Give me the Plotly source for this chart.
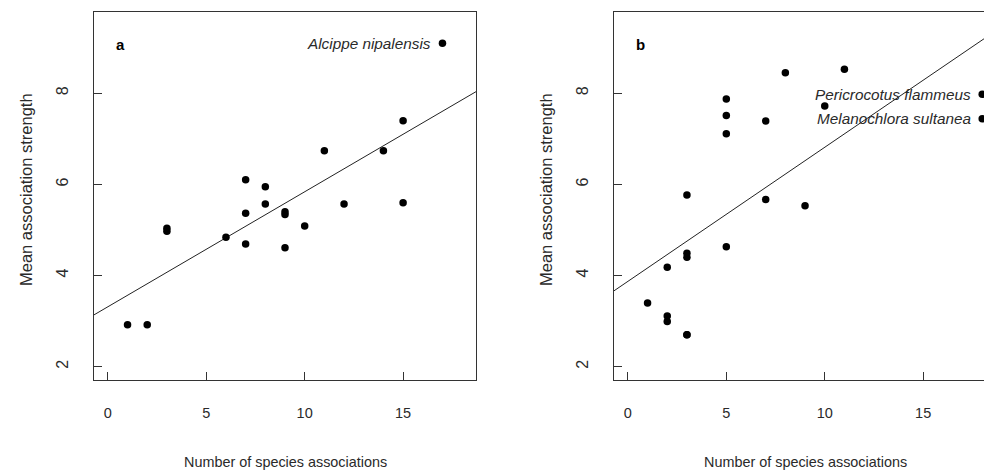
import numpy as np
import plotly.graph_objects as go

# ---------------- data ----------------
# Panel a
a_x = [1, 2, 3, 3, 6, 7, 7, 7, 8, 8, 9, 9, 9, 10, 11, 12, 14, 15, 15, 17]
a_y = [2.92, 2.92, 5.04, 4.97, 4.84, 6.10, 5.37, 4.69, 5.95, 5.57,
       5.40, 5.34, 4.61, 5.09, 6.74, 5.57, 6.74, 7.40, 5.60, 9.10]
# Panel b (the point at (3, 2.70) appears twice - overlapping)
b_x = [1, 2, 2, 2, 3, 3, 3, 3, 3, 5, 5, 5, 5, 7, 7, 8, 9, 10, 11, 18, 18]
b_y = [3.40, 4.18, 3.11, 2.99, 5.77, 4.49, 4.40, 2.70, 2.70, 7.875, 7.51,
       7.11, 4.63, 7.39, 5.67, 8.45, 5.53, 7.72, 8.53, 7.98, 7.44]

a_labels = [("Alcippe nipalensis", 17, 9.10)]
b_labels = [("Pericrocotus flammeus", 18, 7.98), ("Melanochlora sultanea", 18, 7.44)]
panel_tags = ["a", "b"]

x_ticks = [0, 5, 10, 15]
y_ticks = [2, 4, 6, 8]
x_title = "Number of species associations"
y_title = "Mean association strength"

# ---------------- figure ----------------
W, H = 984, 470
FONT = "Liberation Sans, Arial, Helvetica, sans-serif"
TXT = "#2a2a2a"
AX = "#333333"

xr_a = [-0.72, 18.72]
xr_b = [-0.72, 18.09]
yr = [1.708, 9.784]

fig = go.Figure()

def fit_line(xs, ys, xr):
    slope, icpt = np.polyfit(xs, ys, 1)
    lx = np.array(xr)
    return lx, icpt + slope * lx

for xs, ys, xa, ya in [(a_x, a_y, "x", "y"), (b_x, b_y, "x2", "y2")]:
    lx, ly = fit_line(xs, ys, [-0.72, 18.72])
    fig.add_trace(go.Scatter(x=lx, y=ly, mode="lines", xaxis=xa, yaxis=ya,
                             line=dict(color="#222222", width=1), showlegend=False,
                             hoverinfo="skip"))
    fig.add_trace(go.Scatter(x=xs, y=ys, mode="markers", xaxis=xa, yaxis=ya,
                             marker=dict(color="black", size=7.5, line=dict(width=0)),
                             showlegend=False, cliponaxis=False))

left_a, right_a = 93.7, 476.3
left_b = 613.7
top, bottom = 12, 380

dom_y = [1 - bottom / H, 1 - top / H]

axis_common = dict(
    showgrid=False, zeroline=False, showline=True, linecolor=AX, linewidth=1,
    ticks="inside", ticklen=8, tickwidth=1, tickcolor=AX,
)
xfont = dict(family=FONT, size=14.5, color=TXT)
yfont = dict(family=FONT, size=16, color=TXT)

fig.update_layout(
    width=W, height=H,
    margin=dict(l=0, r=0, t=0, b=0),
    paper_bgcolor="white", plot_bgcolor="white",
    xaxis=dict(domain=[left_a / W, right_a / W], range=xr_a, tickvals=x_ticks,
               mirror=True, ticklabelstandoff=20, anchor="y", tickfont=xfont,
               **axis_common),
    yaxis=dict(domain=dom_y, range=yr, tickvals=y_ticks, mirror=True,
               tickangle=-90, ticklabelstandoff=18, anchor="x", tickfont=yfont,
               **axis_common),
    xaxis2=dict(domain=[left_b / W, 1.0], range=xr_b, tickvals=x_ticks,
                mirror=True, ticklabelstandoff=20, anchor="y2", tickfont=xfont,
                **axis_common),
    yaxis2=dict(domain=dom_y, range=yr, tickvals=y_ticks, mirror=False,
                tickangle=-90, ticklabelstandoff=18, anchor="x2", tickfont=yfont,
                **axis_common),
)

ann = []
# panel tags
for tag, xr, yr_ in [("a", "x", "y"), ("b", "x2", "y2")]:
    ann.append(dict(text=f"<b>{tag}</b>", x=0.65, y=9.06, xref=xr, yref=yr_,
                    showarrow=False, font=dict(family=FONT, size=15, color="black")))
# species labels
for labels, xr, yr_ in [(a_labels, "x", "y"), (b_labels, "x2", "y2")]:
    for name, px, py in labels:
        ann.append(dict(text=f"<i>{name}</i>", x=px, y=py, xref=xr, yref=yr_,
                        xanchor="right", xshift=-9, showarrow=False,
                        font=dict(family=FONT, size=15.3, color=TXT)))
# axis titles
for cx in [285, 805]:
    ann.append(dict(text=x_title, x=cx / W, y=1 - 462 / H,
                    xref="paper", yref="paper", xanchor="center", yanchor="middle",
                    showarrow=False, font=dict(family=FONT, size=14.4, color=TXT)))
for cx in [26, 26 + (613.7 - 93.7)]:
    ann.append(dict(text=y_title, x=cx / W, y=1 - 190 / H,
                    xref="paper", yref="paper", xanchor="center", yanchor="middle",
                    textangle=-90, showarrow=False,
                    font=dict(family=FONT, size=16.5, color=TXT)))
fig.update_layout(annotations=ann)

# remove the page's default 8px body margin so the 984x470 figure fills the window
fig.write_html("out.html",
               config={"displayModeBar": False},
               post_script="document.body.style.margin='0';document.body.style.overflow='hidden';")
